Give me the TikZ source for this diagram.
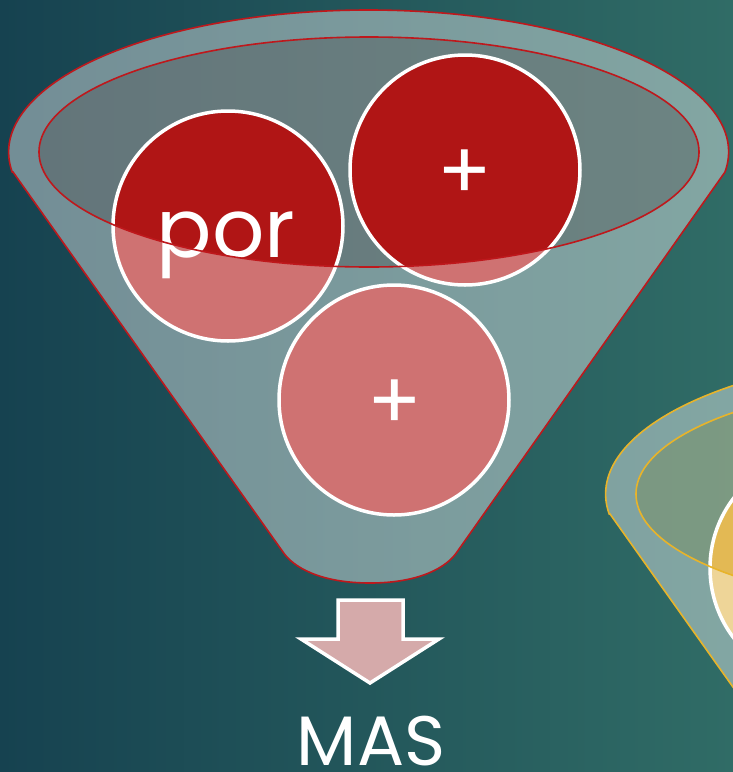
\documentclass[tikz,border=0pt]{standalone}
\usepackage{fontspec}
\setmainfont{Poppins}
\definecolor{bgL}{RGB}{22,66,80}
\definecolor{bgR}{RGB}{48,108,102}
\definecolor{fred}{RGB}{190,24,28}
\definecolor{ballred}{RGB}{176,21,21}
\definecolor{fyel}{RGB}{232,180,42}
\definecolor{ballyel}{RGB}{227,185,84}
\definecolor{arrowpink}{RGB}{213,170,170}
\definecolor{mouthgray}{RGB}{150,150,150}
\definecolor{mouthyel}{RGB}{175,185,150}
\tikzset{
  ball/.style={circle, minimum size=230pt, inner sep=0pt, draw=white, line width=3.5pt},
  balltext/.style={text=white, inner sep=0pt, font=\fontsize{82}{84}\selectfont},
  plustext/.style={text=white, inner sep=0pt, font=\fontsize{80}{82}\selectfont},
  glass/.style={white, opacity=0.4, even odd rule},
  rim/.style={line width=1.6pt},
}
\def\funnelouter{(13,172) -- (283,552) .. controls (293,567) and (320,583) .. (370,583) .. controls (420,583) and (447,567) .. (457,552) -- (725,172) arc[start angle=-8.1, end angle=188.1, x radius=360pt, y radius=142pt] -- cycle}
\def\funnelmouth{(369,152) ellipse [x radius=330pt, y radius=115pt]}
\begin{document}
\begin{tikzpicture}[x=1pt,y=-1pt]
\useasboundingbox (0,0) rectangle (733,772);
\shade[left color=bgL, right color=bgR] (0,0) rectangle (733,772);

% second (partial) funnel, yellow
\begin{scope}[shift={(597,342)}]
  \clip (-597,-342) rectangle (136,430);
  \fill[mouthyel, opacity=0.6] \funnelmouth;
  \node[ball, fill=ballyel] (d1) at (228,226) {};
  \fill[glass] \funnelouter \funnelmouth;
  \draw[fyel, rim] \funnelouter;
  \draw[fyel, rim] \funnelmouth;
\end{scope}

% main funnel, red
\fill[mouthgray, opacity=0.6] \funnelmouth;
\node[ball, fill=ballred] (c1) at (228,226) {};
\node[ball, fill=ballred] (c2) at (465,170) {};
\node[ball, fill=ballred] (c3) at (394,400) {};
\node[balltext, anchor=base] (t1) at (226,257) {por};
\node[plustext] (t2) at (465,175) {+};
\node[plustext] (t3) at (395,405) {+};
\fill[glass] \funnelouter \funnelmouth;
\draw[fred, rim] \funnelouter;
\draw[fred, rim] \funnelmouth;

% arrow and result
\draw[fill=arrowpink, draw=white, line width=3.5pt, line join=miter]
  (338,600) -- (403,600) -- (403,639) -- (439,639) -- (370,683) -- (301,639) -- (338,639) -- cycle;
\node[text=white, font=\fontsize{70}{72}\selectfont, anchor=base, inner sep=0pt] (mas) at (371,765) {MAS};
\end{tikzpicture}
\end{document}
